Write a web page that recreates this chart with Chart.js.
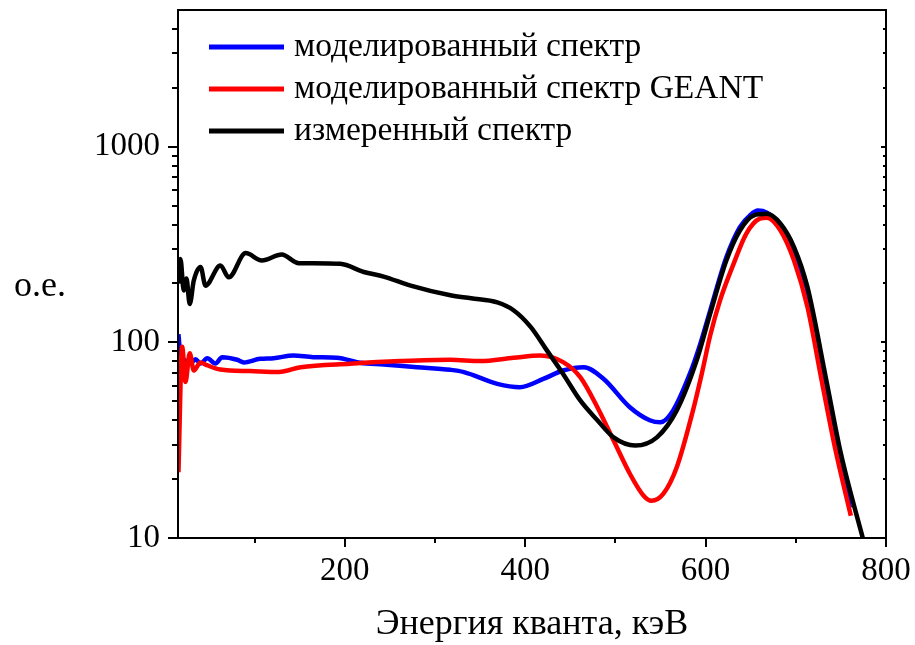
<!DOCTYPE html>
<html>
<head>
<meta charset="utf-8">
<script src="https://cdn.jsdelivr.net/npm/chart.js@4.4.1/dist/chart.umd.min.js"></script>
<style>
html, body { margin: 0; padding: 0; background: #fff; }
canvas { display: block; }
</style>
</head>
<body>
<canvas id="spectrum" width="915" height="645"></canvas>
<script>
// ---- data ----
const seriesLabels = ['моделированный спектр', 'моделированный спектр GEANT', 'измеренный спектр'];
const seriesColors = ['#0000ff', '#ff0000', '#000000'];

// моделированный спектр (blue)
const modelEnergy = [15.5, 17, 19.6, 24, 28.8, 34.4, 40, 47.4, 56.5, 64, 80.6, 88, 106, 121, 143, 165, 191, 217, 243, 280, 317, 332, 369, 394, 420, 442, 465, 487, 516, 538, 550, 564, 583, 594, 605, 623, 638, 650, 658, 668, 683, 697, 712, 732, 748.5, 760];
const modelValue  = [110, 92, 84, 80, 78, 82, 78, 83, 78, 84, 81.5, 79, 82.4, 83, 85.7, 84, 83.5, 78.7, 77, 74.7, 72.4, 70.5, 61.4, 59, 65, 71.8, 74.7, 65, 46.6, 40, 39, 44.9, 70, 98, 145, 272, 388, 450, 472, 460, 400, 303, 188, 65, 27, 14.3];

// моделированный спектр GEANT (red)
const geantEnergy = [15.5, 19.6, 23.3, 28, 32.5, 40, 45.5, 62, 95, 127, 151, 206, 261, 317, 350, 387, 417, 442, 461, 480, 498, 516, 531, 540, 553, 568, 586, 596, 605, 616, 631, 645, 660, 668, 683, 698, 713, 728.6, 743.4, 761];
const geantValue  = [21.7, 95, 62.7, 88, 71.8, 79, 77, 72.6, 71.3, 70.5, 74.7, 77.8, 80.2, 81.5, 80.2, 83.4, 85.7, 79.2, 66.4, 46.6, 31.5, 21.3, 16.5, 15.5, 16.8, 23, 44.9, 70, 108, 164, 252, 359, 429, 434, 373, 262, 151, 64, 29, 13];

// измеренный спектр (black)
const measEnergy = [15.5, 17.7, 21.4, 24.4, 28, 32.5, 40, 45.5, 62, 71.3, 90, 108, 130, 149, 165, 195, 221, 243, 273, 317, 340, 369, 387, 406, 424, 442, 461, 480, 498, 522, 546, 568, 590, 605, 623, 638, 653, 668, 683, 698, 713, 733.5, 750, 774, 780];
const measValue  = [200, 267, 184, 212, 157, 207, 243, 195, 247, 215, 286, 262, 281, 254, 254, 252, 229, 217, 195, 174, 168, 160, 146, 120, 91, 69, 50.5, 40, 32.7, 29.7, 32.7, 44.9, 80.7, 140, 262, 373, 445, 454, 404, 307, 191, 65.3, 27, 10.1, 8];

const xTickValues = [200, 400, 600, 800];
const xMinorValues = [100, 300, 500, 700];
const yTickValues = [10, 100, 1000];
const yMinorValues = [20, 30, 40, 50, 60, 70, 80, 90, 200, 300, 400, 500, 600, 700, 800, 900, 2000, 3000, 4000];

const FONT = "'Liberation Serif', 'Times New Roman', serif";

function toPoints(xs, ys) {
    return xs.map((x, i) => ({ x: x, y: ys[i] }));
}

// keep the plot box where the picture has it: no extra room for edge labels
function noEdgePadding(scale) {
    scale.paddingTop = 0;
    scale.paddingBottom = 0;
    scale.paddingLeft = 0;
    scale.paddingRight = 0;
}

// Box, tick marks, legend and the "о.е." label
var frameAndLegend = {
    id: 'frameAndLegend',
    afterDraw: function(chart) {
        const ctx = chart.ctx;
        const a = chart.chartArea;
        const xs = chart.scales.x;
        const ys = chart.scales.y;
        ctx.save();
        ctx.strokeStyle = '#000';
        ctx.lineWidth = 2;
        ctx.strokeRect(a.left, a.top, a.right - a.left, a.bottom - a.top);

        ctx.beginPath();
        xTickValues.forEach(v => {
            const px = Math.round(xs.getPixelForValue(v));
            ctx.moveTo(px, a.bottom); ctx.lineTo(px, a.bottom + 9);
        });
        xMinorValues.forEach(v => {
            const px = Math.round(xs.getPixelForValue(v));
            ctx.moveTo(px, a.bottom); ctx.lineTo(px, a.bottom + 5);
        });
        yTickValues.forEach(v => {
            const py = Math.round(ys.getPixelForValue(v));
            ctx.moveTo(a.left, py); ctx.lineTo(a.left - 10, py);
            ctx.moveTo(a.right, py); ctx.lineTo(a.right - 5, py);
        });
        yMinorValues.forEach(v => {
            const py = Math.round(ys.getPixelForValue(v));
            ctx.moveTo(a.left, py); ctx.lineTo(a.left - 6, py);
            ctx.moveTo(a.right, py); ctx.lineTo(a.right - 3, py);
        });
        ctx.stroke();

        // legend
        ctx.font = '33.5px ' + FONT;
        ctx.textBaseline = 'middle';
        ctx.textAlign = 'left';
        seriesLabels.forEach((label, i) => {
            const y = a.top + 37 + i * 42;
            ctx.fillStyle = seriesColors[i];
            ctx.fillRect(a.left + 31, y - 2.5, 75, 5);
            ctx.fillStyle = '#000';
            ctx.fillText(label, a.left + 116, y);
        });

        // y axis label, horizontal
        ctx.font = '36px ' + FONT;
        ctx.textAlign = 'center';
        ctx.fillText('о.е.', 40, 287);
        ctx.restore();
    }
};

const ctx = document.getElementById('spectrum').getContext('2d');
const spectrumChart = new Chart(ctx, {
    type: 'line',
    data: {
        datasets: [
            { label: seriesLabels[0], data: toPoints(modelEnergy, modelValue), borderColor: seriesColors[0], order: 2 },
            { label: seriesLabels[1], data: toPoints(geantEnergy, geantValue), borderColor: seriesColors[1], order: 1 },
            { label: seriesLabels[2], data: toPoints(measEnergy, measValue), borderColor: seriesColors[2], order: 0 }
        ]
    },
    options: {
        responsive: false,
        animation: false,
        devicePixelRatio: 1,
        layout: { padding: { top: 10, right: 29, left: 0, bottom: 0 } },
        elements: {
            line: { borderWidth: 4.5, cubicInterpolationMode: 'monotone', fill: false },
            point: { radius: 0 }
        },
        plugins: {
            legend: { display: false },
            tooltip: { enabled: false }
        },
        scales: {
            x: {
                type: 'linear',
                min: 15,
                max: 800,
                grid: { display: false, drawTicks: false },
                border: { display: false },
                afterBuildTicks: function(scale) {
                    scale.ticks = xTickValues.map(v => ({ value: v }));
                },
                afterFit: function(scale) {
                    scale.height = 107;
                    noEdgePadding(scale);
                },
                ticks: {
                    padding: 14,
                    color: '#000',
                    maxRotation: 0,
                    font: { family: FONT, size: 33 },
                    callback: function(v) { return String(v); }
                },
                title: {
                    display: true,
                    text: 'Энергия кванта, кэВ',
                    color: '#000',
                    font: { family: FONT, size: 36, lineHeight: 1 },
                    padding: { top: 0, bottom: 2 }
                }
            },
            y: {
                type: 'logarithmic',
                min: 10,
                max: 5000,
                grid: { display: false, drawTicks: false },
                border: { display: false },
                afterBuildTicks: function(scale) {
                    scale.ticks = yTickValues.map(v => ({ value: v }));
                },
                afterFit: function(scale) {
                    scale.width = 178;
                    noEdgePadding(scale);
                },
                ticks: {
                    padding: 18,
                    color: '#000',
                    font: { family: FONT, size: 33 },
                    callback: function(v) { return String(v); }
                }
            }
        }
    },
    plugins: [frameAndLegend]
});
</script>
</body>
</html>
